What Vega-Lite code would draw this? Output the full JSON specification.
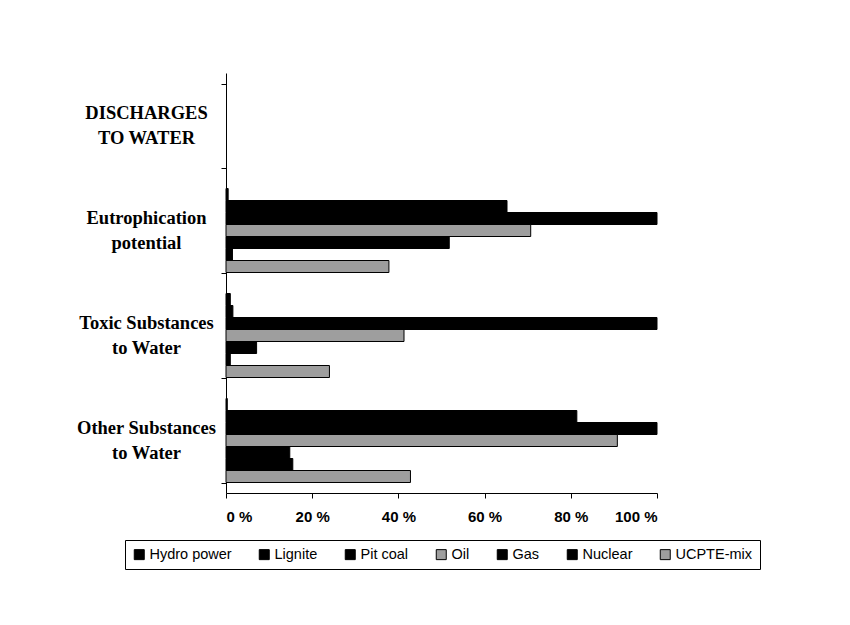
{
  "$schema": "https://vega.github.io/schema/vega-lite/v6.json",
  "width": 431,
  "height": 420,
  "autosize": {"type": "none"},
  "padding": {"left": 226, "top": 73, "right": 193, "bottom": 132},
  "background": "white",
  "data": {
    "values": [
      {"category": "Eutrophication|potential", "source": "Hydro power", "value": 0.5},
      {"category": "Eutrophication|potential", "source": "Lignite", "value": 65.2},
      {"category": "Eutrophication|potential", "source": "Pit coal", "value": 100},
      {"category": "Eutrophication|potential", "source": "Oil", "value": 70.7},
      {"category": "Eutrophication|potential", "source": "Gas", "value": 51.8},
      {"category": "Eutrophication|potential", "source": "Nuclear", "value": 1.5},
      {"category": "Eutrophication|potential", "source": "UCPTE-mix", "value": 37.8},
      {"category": "Toxic Substances|to Water", "source": "Hydro power", "value": 1.0},
      {"category": "Toxic Substances|to Water", "source": "Lignite", "value": 1.6},
      {"category": "Toxic Substances|to Water", "source": "Pit coal", "value": 100},
      {"category": "Toxic Substances|to Water", "source": "Oil", "value": 41.3},
      {"category": "Toxic Substances|to Water", "source": "Gas", "value": 7.1},
      {"category": "Toxic Substances|to Water", "source": "Nuclear", "value": 1.0},
      {"category": "Toxic Substances|to Water", "source": "UCPTE-mix", "value": 24.0},
      {"category": "Other Substances|to Water", "source": "Hydro power", "value": 0.3},
      {"category": "Other Substances|to Water", "source": "Lignite", "value": 81.4},
      {"category": "Other Substances|to Water", "source": "Pit coal", "value": 100},
      {"category": "Other Substances|to Water", "source": "Oil", "value": 90.8},
      {"category": "Other Substances|to Water", "source": "Gas", "value": 14.8},
      {"category": "Other Substances|to Water", "source": "Nuclear", "value": 15.5},
      {"category": "Other Substances|to Water", "source": "UCPTE-mix", "value": 42.8}
    ]
  },
  "mark": {"type": "bar", "stroke": "black", "strokeWidth": 1},
  "encoding": {
    "y": {
      "field": "category",
      "type": "nominal",
      "scale": {
        "domain": ["DISCHARGES|TO WATER", "Eutrophication|potential", "Toxic Substances|to Water", "Other Substances|to Water"],
        "paddingInner": 0.2,
        "paddingOuter": 0.1
      },
      "axis": {
        "title": null,
        "labelExpr": "split(datum.label, '|')",
        "labelAlign": "center",
        "labelBaseline": "middle",
        "labelOffset": -13,
        "labelPadding": 75,
        "labelFont": "Liberation Serif",
        "labelFontWeight": "bold",
        "labelFontSize": 18.5,
        "labelLineHeight": 25,
        "labelColor": "black",
        "labelLimit": 0,
        "tickBand": "extent",
        "tickSize": 5,
        "tickColor": "black",
        "domainColor": "black",
        "grid": false
      }
    },
    "yOffset": {
      "field": "source",
      "type": "nominal",
      "scale": {
        "domain": ["Hydro power", "Lignite", "Pit coal", "Oil", "Gas", "Nuclear", "UCPTE-mix"],
        "paddingInner": 0,
        "paddingOuter": 0
      }
    },
    "x": {
      "field": "value",
      "type": "quantitative",
      "scale": {"domain": [0, 100]},
      "axis": {
        "title": null,
        "values": [0, 20, 40, 60, 80, 100],
        "labelExpr": "datum.value + ' %'",
        "labelFont": "Liberation Sans",
        "labelFontWeight": "bold",
        "labelFontSize": 15,
        "labelColor": "black",
        "labelPadding": 11,
        "tickSize": 5,
        "tickColor": "black",
        "domainColor": "black",
        "grid": false
      }
    },
    "color": {
      "field": "source",
      "type": "nominal",
      "scale": {
        "domain": ["Hydro power", "Lignite", "Pit coal", "Oil", "Gas", "Nuclear", "UCPTE-mix"],
        "range": ["#000000", "#000000", "#000000", "#9e9e9e", "#000000", "#000000", "#9e9e9e"]
      },
      "legend": {
        "title": null,
        "orient": "none",
        "direction": "horizontal",
        "legendX": -101,
        "legendY": 467,
        "strokeColor": "black",
        "padding": 7,
        "labelFont": "Liberation Sans",
        "labelFontSize": 14.5,
        "labelColor": "black",
        "symbolType": "square",
        "symbolSize": 100,
        "symbolStrokeColor": "black",
        "symbolStrokeWidth": 1,
        "symbolOpacity": 1,
        "columnPadding": 25,
        "labelOffset": 3
      }
    }
  },
  "config": {"view": {"stroke": null}}
}
